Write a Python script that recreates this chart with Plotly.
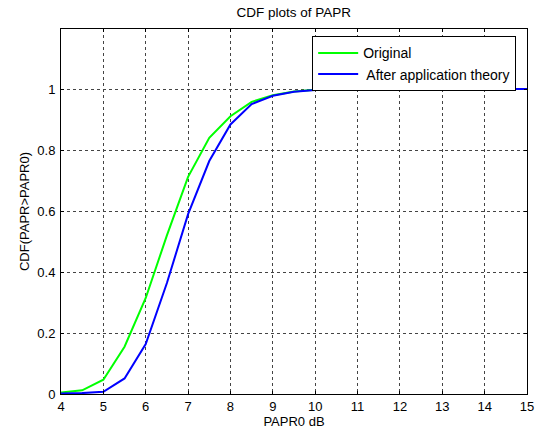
import plotly.graph_objects as go

papr0 = [4, 4.5, 5, 5.5, 6, 6.5, 7, 7.5, 8, 8.5, 9, 9.5, 10, 10.5, 11, 11.5, 12, 12.5, 13, 13.5, 14, 14.5, 15]
cdf_original = [0.005, 0.012, 0.047, 0.155, 0.315, 0.52, 0.712, 0.84, 0.911, 0.958, 0.98, 0.992, 0.998, 0.999, 1, 1, 1, 1, 1, 1, 1, 1, 1]
cdf_after = [0.002, 0.003, 0.007, 0.051, 0.164, 0.364, 0.59, 0.764, 0.884, 0.951, 0.978, 0.991, 0.997, 0.999, 1, 1, 1, 1, 1, 1, 1, 1, 1]

xticks = [4, 5, 6, 7, 8, 9, 10, 11, 12, 13, 14, 15]
yticks = [0, 0.2, 0.4, 0.6, 0.8, 1]
yticklabels = ["0", "0.2", "0.4", "0.6", "0.8", "1"]

FONT = "Liberation Sans, Arial"

fig = go.Figure()
fig.add_trace(go.Scatter(x=papr0, y=cdf_original, mode="lines", name="Original",
                         line=dict(color="#00ff00", width=2)))
fig.add_trace(go.Scatter(x=papr0, y=cdf_after, mode="lines", name=" After application theory",
                         line=dict(color="#0000ff", width=2)))

axis_common = dict(showline=True, linecolor="black", linewidth=1, mirror="ticks",
                   ticks="inside", ticklen=3, tickcolor="black", automargin=False,
                   showgrid=True, gridcolor="#444444", griddash="dot", gridwidth=1,
                   zeroline=False, tickfont=dict(family=FONT, size=13, color="black"))

fig.update_layout(
    width=535, height=434,
    paper_bgcolor="white", plot_bgcolor="white",
    margin=dict(l=61, r=8, t=29, b=40, autoexpand=False),
    title=dict(text="CDF plots of PAPR", x=0.549, xanchor="center", y=0.972, yanchor="middle",
               font=dict(family=FONT, size=13.5, color="black")),
    xaxis=dict(range=[4, 15], tickvals=xticks, ticktext=[str(t) for t in xticks],
               ticklabelstandoff=0,
               title=dict(text="PAPR0 dB", standoff=0, font=dict(family=FONT, size=13, color="black")),
               **axis_common),
    yaxis=dict(range=[0, 1.197], tickvals=yticks, ticktext=yticklabels,
               ticklabelstandoff=2,
               title=dict(text="CDF(PAPR>PAPR0)", standoff=4, font=dict(family=FONT, size=13, color="black")),
               **axis_common),
    legend=dict(x=0.539, y=0.98, xanchor="left", yanchor="top",
                bgcolor="white", bordercolor="black", borderwidth=1,
                font=dict(family=FONT, size=14, color="black"),
                tracegroupgap=0, itemwidth=40),
    showlegend=True,
)

fig.write_html("out.html", config={"displayModeBar": False},
               post_script="document.body.style.margin='0';document.body.style.overflow='hidden';")
